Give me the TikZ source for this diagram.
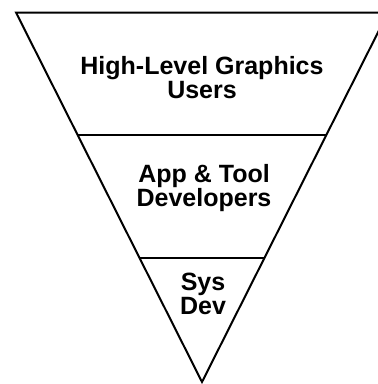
\documentclass[tikz,border=0pt]{standalone}
\usepackage{fontspec}
\setmainfont{Liberation Sans}
\usetikzlibrary{calc}
\begin{document}
\begin{tikzpicture}[x=1pt,y=-1pt,
  edge/.style={line width=2pt},
  label/.style={align=center,font=\bfseries\fontsize{25}{24}\selectfont,inner sep=0pt}]
\useasboundingbox (0,0) rectangle (378,384);
\clip (0,0) rectangle (378,384);
\coordinate (tl) at (16,12.5);
\coordinate (tr) at (388,12.5);
\coordinate (ap) at (202,382);
\draw[edge] (tl) -- (tr) -- (ap) -- cycle;
\coordinate (l1) at ($(tl)!0.3315!(ap)$);
\coordinate (r1) at ($(tr)!0.3315!(ap)$);
\coordinate (l2) at ($(tl)!0.6644!(ap)$);
\coordinate (r2) at ($(tr)!0.6644!(ap)$);
\draw[edge] (l1) -- (r1);
\draw[edge] (l2) -- (r2);
\node[label] (users) at (202,78) {High-Level Graphics\\Users};
\node[label] (apps) at (204,188) {App \& Tool\\Developers};
\node[label] (sys) at (203,294) {Sys\\Dev};
\end{tikzpicture}
\end{document}
